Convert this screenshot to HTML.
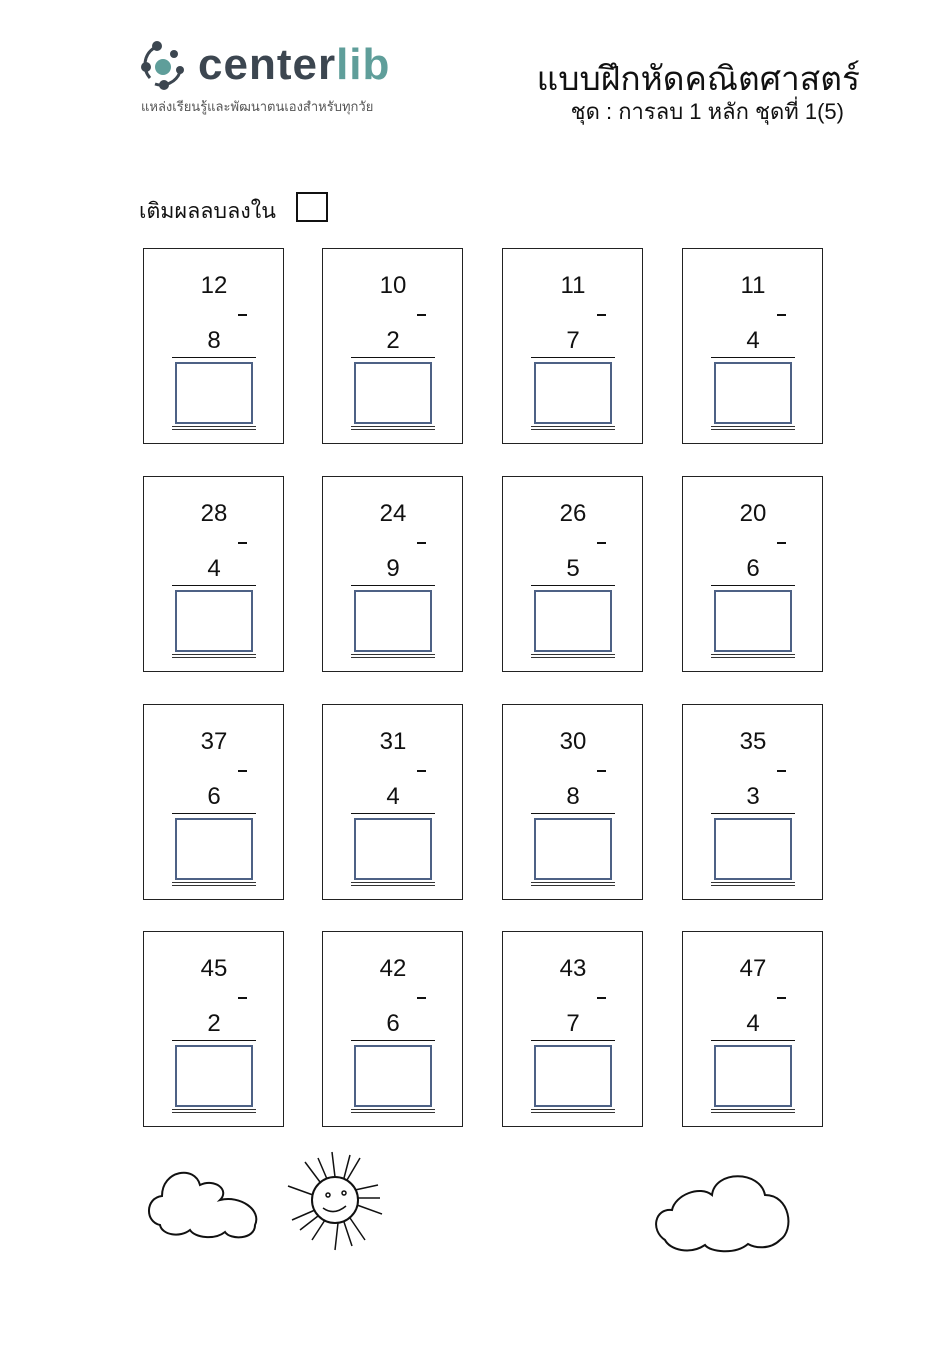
<!DOCTYPE html>
<html><head><meta charset="utf-8">
<style>
body{margin:0;width:951px;height:1345px;background:#fff;position:relative;overflow:hidden;font-family:"Liberation Sans","DejaVu Sans",sans-serif;}
.c{position:absolute;width:139px;height:194px;border:1px solid #222;box-sizing:content-box;}
.t,.b{position:absolute;left:0;width:140px;text-align:center;font-size:24px;color:#111;line-height:26px;}
.t{top:24px}.b{top:79px}
.m{position:absolute;left:94px;top:65px;width:9px;height:2px;background:#111}
.l{position:absolute;left:28px;width:84px;height:1px;background:#111;top:108px}
.bx{position:absolute;left:31px;top:113px;width:74px;height:58px;border:2px solid #4d6185}
.d{position:absolute;left:28px;width:84px;top:177px;border-top:1px solid #333;border-bottom:1px solid #333;height:2px}
.abs{position:absolute}
</style></head><body>
<svg class="abs" style="left:140px;top:40px" width="60" height="50" viewBox="0 0 60 50">
<path d="M14 8 A20 20 0 0 0 10 38" stroke="#3c4650" stroke-width="3" fill="none"/>
<path d="M15 44 A20 20 0 0 0 40 32" stroke="#3c4650" stroke-width="3" fill="none"/>
<circle cx="17" cy="6" r="5" fill="#3c4650"/><circle cx="34" cy="14" r="4" fill="#3c4650"/>
<circle cx="6" cy="27" r="5" fill="#3c4650"/><circle cx="40" cy="30" r="4" fill="#3c4650"/>
<circle cx="24" cy="45" r="5" fill="#3c4650"/><circle cx="23" cy="27" r="8" fill="#5f9e9a"/>
</svg>
<div class="abs" style="left:198px;top:40px;font-size:44px;font-weight:bold;color:#3c4650;letter-spacing:1px;line-height:50px">center<span style="color:#5f9e9a">lib</span></div>
<div class="abs" style="left:141px;top:99px;font-size:13px;color:#555;line-height:16px">แหล่งเรียนรู้และพัฒนาตนเองสำหรับทุกวัย</div>
<div class="abs" style="left:500px;top:59px;width:360px;text-align:right;font-size:33.5px;color:#111;line-height:42px">แบบฝึกหัดคณิตศาสตร์</div>
<div class="abs" style="left:500px;top:98px;width:344px;text-align:right;font-size:22px;color:#111;line-height:28px">ชุด : การลบ 1 หลัก ชุดที่ 1(5)</div>
<div class="abs" style="left:139px;top:197px;font-size:21.5px;color:#111;line-height:28px">เติมผลลบลงใน</div>
<div class="abs" style="left:296px;top:192px;width:28px;height:26px;border:2px solid #111"></div>

<div class="c" style="left:143px;top:248px"><div class="t">12</div><div class="m"></div><div class="b">8</div><div class="l"></div><div class="bx"></div><div class="d"></div></div>
<div class="c" style="left:322px;top:248px"><div class="t">10</div><div class="m"></div><div class="b">2</div><div class="l"></div><div class="bx"></div><div class="d"></div></div>
<div class="c" style="left:502px;top:248px"><div class="t">11</div><div class="m"></div><div class="b">7</div><div class="l"></div><div class="bx"></div><div class="d"></div></div>
<div class="c" style="left:682px;top:248px"><div class="t">11</div><div class="m"></div><div class="b">4</div><div class="l"></div><div class="bx"></div><div class="d"></div></div>

<div class="c" style="left:143px;top:476px"><div class="t">28</div><div class="m"></div><div class="b">4</div><div class="l"></div><div class="bx"></div><div class="d"></div></div>
<div class="c" style="left:322px;top:476px"><div class="t">24</div><div class="m"></div><div class="b">9</div><div class="l"></div><div class="bx"></div><div class="d"></div></div>
<div class="c" style="left:502px;top:476px"><div class="t">26</div><div class="m"></div><div class="b">5</div><div class="l"></div><div class="bx"></div><div class="d"></div></div>
<div class="c" style="left:682px;top:476px"><div class="t">20</div><div class="m"></div><div class="b">6</div><div class="l"></div><div class="bx"></div><div class="d"></div></div>

<div class="c" style="left:143px;top:704px"><div class="t">37</div><div class="m"></div><div class="b">6</div><div class="l"></div><div class="bx"></div><div class="d"></div></div>
<div class="c" style="left:322px;top:704px"><div class="t">31</div><div class="m"></div><div class="b">4</div><div class="l"></div><div class="bx"></div><div class="d"></div></div>
<div class="c" style="left:502px;top:704px"><div class="t">30</div><div class="m"></div><div class="b">8</div><div class="l"></div><div class="bx"></div><div class="d"></div></div>
<div class="c" style="left:682px;top:704px"><div class="t">35</div><div class="m"></div><div class="b">3</div><div class="l"></div><div class="bx"></div><div class="d"></div></div>

<div class="c" style="left:143px;top:931px"><div class="t">45</div><div class="m"></div><div class="b">2</div><div class="l"></div><div class="bx"></div><div class="d"></div></div>
<div class="c" style="left:322px;top:931px"><div class="t">42</div><div class="m"></div><div class="b">6</div><div class="l"></div><div class="bx"></div><div class="d"></div></div>
<div class="c" style="left:502px;top:931px"><div class="t">43</div><div class="m"></div><div class="b">7</div><div class="l"></div><div class="bx"></div><div class="d"></div></div>
<div class="c" style="left:682px;top:931px"><div class="t">47</div><div class="m"></div><div class="b">4</div><div class="l"></div><div class="bx"></div><div class="d"></div></div>

<svg class="abs" style="left:0;top:0" width="951" height="1345">
<g fill="none" stroke="#111" stroke-width="2">
<path d="M160 1225 C145 1222 145 1198 162 1196 C162 1170 195 1165 200 1185 C215 1178 230 1190 220 1200 C240 1195 262 1210 255 1225 C255 1240 230 1240 225 1232 C215 1240 195 1238 190 1230 C180 1238 162 1235 160 1225 Z"/>
<path d="M665 1240 C650 1230 655 1208 672 1210 C675 1195 700 1185 712 1195 C715 1170 760 1170 765 1195 C790 1195 795 1230 780 1240 C770 1250 755 1248 748 1244 C735 1255 710 1252 705 1245 C690 1255 670 1250 665 1240 Z"/>
<circle cx="335" cy="1200" r="23"/>
</g>
<g stroke="#111" stroke-width="1.5" fill="none">
<path d="M335 1177 L332 1152 M347 1180 L360 1158 M355 1190 L378 1185 M357 1205 L382 1214 M350 1218 L365 1240 M338 1223 L335 1250 M325 1220 L312 1240 M315 1210 L292 1220 M313 1195 L288 1186 M320 1182 L305 1162 M344 1178 L350 1155 M358 1198 L380 1198 M344 1222 L352 1246 M318 1216 L300 1230 M327 1179 L318 1158"/>
<circle cx="328" cy="1195" r="2"/><circle cx="344" cy="1193" r="2"/>
<path d="M323 1208 Q334 1216 346 1206"/>
</g>
</svg>
</body></html>
